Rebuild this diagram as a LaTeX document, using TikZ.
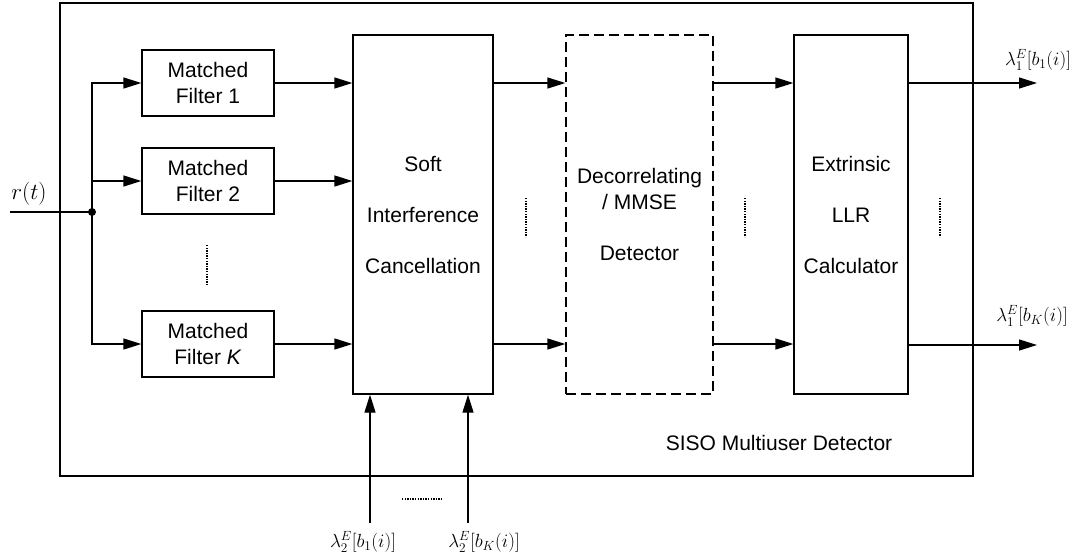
\RequirePackage{fix-cm}
\documentclass[tikz,border=0pt]{standalone}
\usepackage{fontspec}
\setmainfont{Liberation Sans}
\usepackage{tikz}
\usetikzlibrary{arrows.meta}

\begin{document}
\begin{tikzpicture}[
    x=1pt, y=-1pt,
    box/.style={draw, line width=1.3pt, inner sep=0pt, align=center, minimum width=132pt, minimum height=66pt, font=\fontsize{21}{26}\selectfont},
    tall/.style={box, minimum width=#1, minimum height=359pt, font=\fontsize{21}{51}\selectfont},
    arr/.style={-{Triangle[length=18pt, width=11pt]}, line width=1.3pt},
    dots/.style={line width=1.2pt, dash pattern=on 1.3pt off 1.3pt},
    lab/.style={font=\fontsize{19}{23}\selectfont}
]
\useasboundingbox (0,0) rectangle (1091,558);

% outer frame
\node[draw, line width=1.3pt, minimum width=913pt, minimum height=473pt] (siso) at (516.5,239.5) {};
\node[font=\fontsize{21}{26}\selectfont] (sisolabel) at (779,443) {SISO Multiuser Detector};

% matched filter bank
\node[box] (mf1) at (208,83) {Matched\\Filter 1};
\node[box] (mf2) at (208,181) {Matched\\Filter 2};
\node[box] (mfk) at (208,344) {Matched\\Filter \textit{K}};

% processing blocks
\node[tall=140pt] (sic) at (423,214.5) {Soft\\Interference\\Cancellation};
\node[tall=147pt, dash pattern=on 10pt off 5pt] (dec) at (639.5,214.5) {Decorrelating\\[-25pt]/ MMSE\\Detector};
\node[tall=114pt] (llr) at (851,214.5) {Extrinsic\\LLR\\Calculator};

% input r(t)
\coordinate (rin) at (10,212);
\coordinate (split) at (92,212);
\node[lab, font=\fontsize{23}{27}\selectfont] (rlabel) at (29,194) {$r(t)$};
\draw[line width=1.3pt] (rin) -- (split);
\fill (split) circle (4pt);
\draw[arr] (split) |- (mf1.west);
\draw[arr] (split) |- (mf2.west);
\draw[arr] (split) |- (mfk.west);
\draw[dots] (207,245) -- (207,285);

% filters to SIC
\draw[arr] (mf1.east) -- (mf1 -| sic.west);
\draw[arr] (mf2.east) -- (mf2 -| sic.west);
\draw[arr] (mfk.east) -- (mfk -| sic.west);

% SIC -> detector -> LLR
\draw[arr] (sic.east |- mf1) -- (dec.west |- mf1);
\draw[arr] (sic.east |- mfk) -- (dec.west |- mfk);
\draw[dots] (526,198) -- (526,237);
\draw[arr] (dec.east |- mf1) -- (llr.west |- mf1);
\draw[arr] (dec.east |- mfk) -- (llr.west |- mfk);
\draw[dots] (745,198) -- (745,237);

% outputs
\coordinate (out1) at (1037,83);
\coordinate (outk) at (1037,345);
\draw[arr] (llr.east |- out1) -- (out1);
\draw[arr] (llr.east |- outk) -- (outk);
\draw[dots] (940,198) -- (940,237);
\node[lab] (out1label) at (1038,60) {$\lambda_1^E[b_1(i)]$};
\node[lab] (outklabel) at (1032,316) {$\lambda_1^E[b_K(i)]$};

% a priori inputs
\coordinate (in1) at (370,523);
\coordinate (ink) at (468,523);
\draw[arr] (in1) -- (in1 |- sic.south);
\draw[arr] (ink) -- (ink |- sic.south);
\draw[dots] (402,499) -- (442,499);
\node[lab] (in1label) at (363,542) {$\lambda_2^E[b_1(i)]$};
\node[lab] (inklabel) at (484,542) {$\lambda_2^E[b_K(i)]$};
\end{tikzpicture}
\end{document}
